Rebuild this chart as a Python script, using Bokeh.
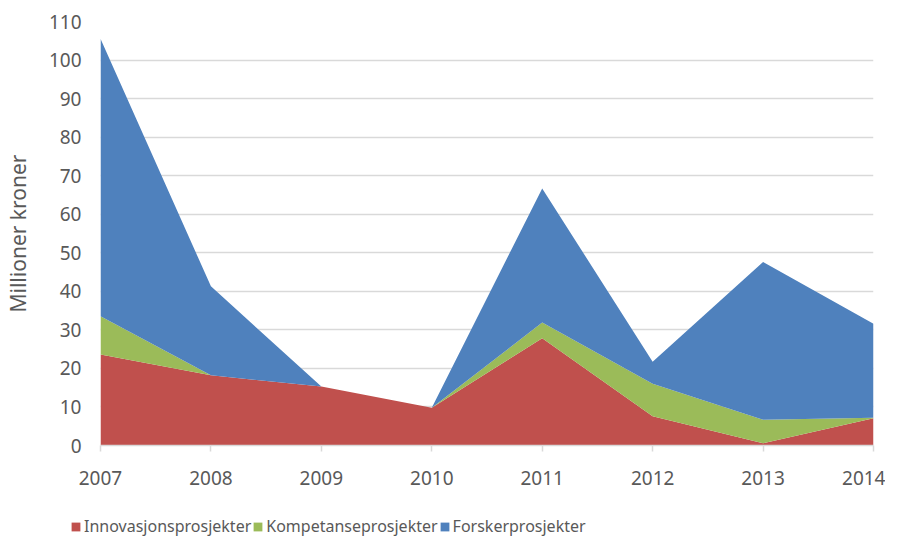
from bokeh.plotting import figure
from bokeh.layouts import column
from bokeh.models import ColumnDataSource, Legend, LegendItem, FixedTicker, Range1d
from bokeh.embed import file_html
from bokeh.resources import INLINE

years = [2007, 2008, 2009, 2010, 2011, 2012, 2013, 2014]
innovasjon = [23.6, 18.2, 15.3, 9.8, 27.8, 7.6, 0.6, 7.1]
kompetanse = [9.9, 0.0, 0.0, 0.0, 4.1, 8.4, 6.1, 0.1]
forsker = [72.0, 23.1, 0.0, 0.0, 34.8, 5.7, 40.9, 24.4]
series_names = ["Innovasjonsprosjekter", "Kompetanseprosjekter", "Forskerprosjekter"]
colors = ["#C0504D", "#9BBB59", "#4F81BD"]
y_ticks = list(range(0, 111, 10))

src = ColumnDataSource(dict(x=years, a=innovasjon, b=kompetanse, c=forsker))

FONT = "Noto Sans"
TXT = "#595959"

p = figure(width=885, height=505, output_backend="svg", toolbar_location=None,
           x_range=Range1d(2007, 2014), y_range=Range1d(0, 110),
           min_border_left=99, min_border_right=12, min_border_top=21, min_border_bottom=60)
p.outline_line_color = None
p.background_fill_color = "white"

p.varea_stack(["a", "b", "c"], x="x", source=src, color=colors)

p.xgrid.grid_line_color = None
p.ygrid.grid_line_color = "#D9D9D9"
p.ygrid.grid_line_width = 1.5
p.ygrid.ticker = FixedTicker(ticks=y_ticks)

p.xaxis.ticker = FixedTicker(ticks=years)
p.xaxis.axis_line_color = "#D9D9D9"
p.xaxis.axis_line_width = 1.5
p.xaxis.major_tick_line_color = "#D9D9D9"
p.xaxis.major_tick_line_width = 1.5
p.xaxis.major_tick_out = 6
p.xaxis.major_tick_in = 0
p.xaxis.minor_tick_line_color = None
p.xaxis.major_label_text_font = FONT
p.xaxis.major_label_text_font_size = "19px"
p.xaxis.major_label_text_color = TXT
p.xaxis.major_label_standoff = 19

p.yaxis.ticker = FixedTicker(ticks=y_ticks)
p.yaxis.axis_line_color = None
p.yaxis.major_tick_line_color = None
p.yaxis.minor_tick_line_color = None
p.yaxis.major_label_text_font = FONT
p.yaxis.major_label_text_font_size = "19px"
p.yaxis.major_label_text_color = TXT
p.yaxis.major_label_standoff = 13
p.yaxis.axis_label = "Millioner kroner"
p.yaxis.axis_label_text_font = FONT
p.yaxis.axis_label_text_font_size = "21px"
p.yaxis.axis_label_text_font_style = "normal"
p.yaxis.axis_label_text_color = TXT
p.yaxis.axis_label_standoff = 14

# legend panel (separate strip below the chart)
leg = figure(width=885, height=34, output_backend="svg", toolbar_location=None,
             x_range=Range1d(0, 1), y_range=Range1d(0, 1),
             x_axis_location=None, y_axis_location=None,
             min_border_left=0, min_border_right=0, min_border_top=0, min_border_bottom=0)
try:
    leg.frame_align = False
except Exception:
    pass
leg.grid.visible = False
leg.outline_line_color = None
# swatch renderers kept outside the visible range; only used for legend glyphs
dummies = [leg.varea(x=[5, 6], y1=[5, 5], y2=[6, 6], color=c) for c in colors]

legend = Legend(items=[LegendItem(label=n, renderers=[r]) for n, r in zip(series_names, dummies)],
                orientation="horizontal", location=(70, 2),
                label_text_font=FONT, label_text_font_size="16px", label_text_color=TXT,
                glyph_width=11, glyph_height=11, label_standoff=3, label_width=166,
                spacing=1, padding=0, margin=0, border_line_color=None,
                background_fill_alpha=0)
leg.add_layout(legend, "center")

layout = column(p, leg, spacing=0)
open("out.html", "w").write(file_html(layout, INLINE))
